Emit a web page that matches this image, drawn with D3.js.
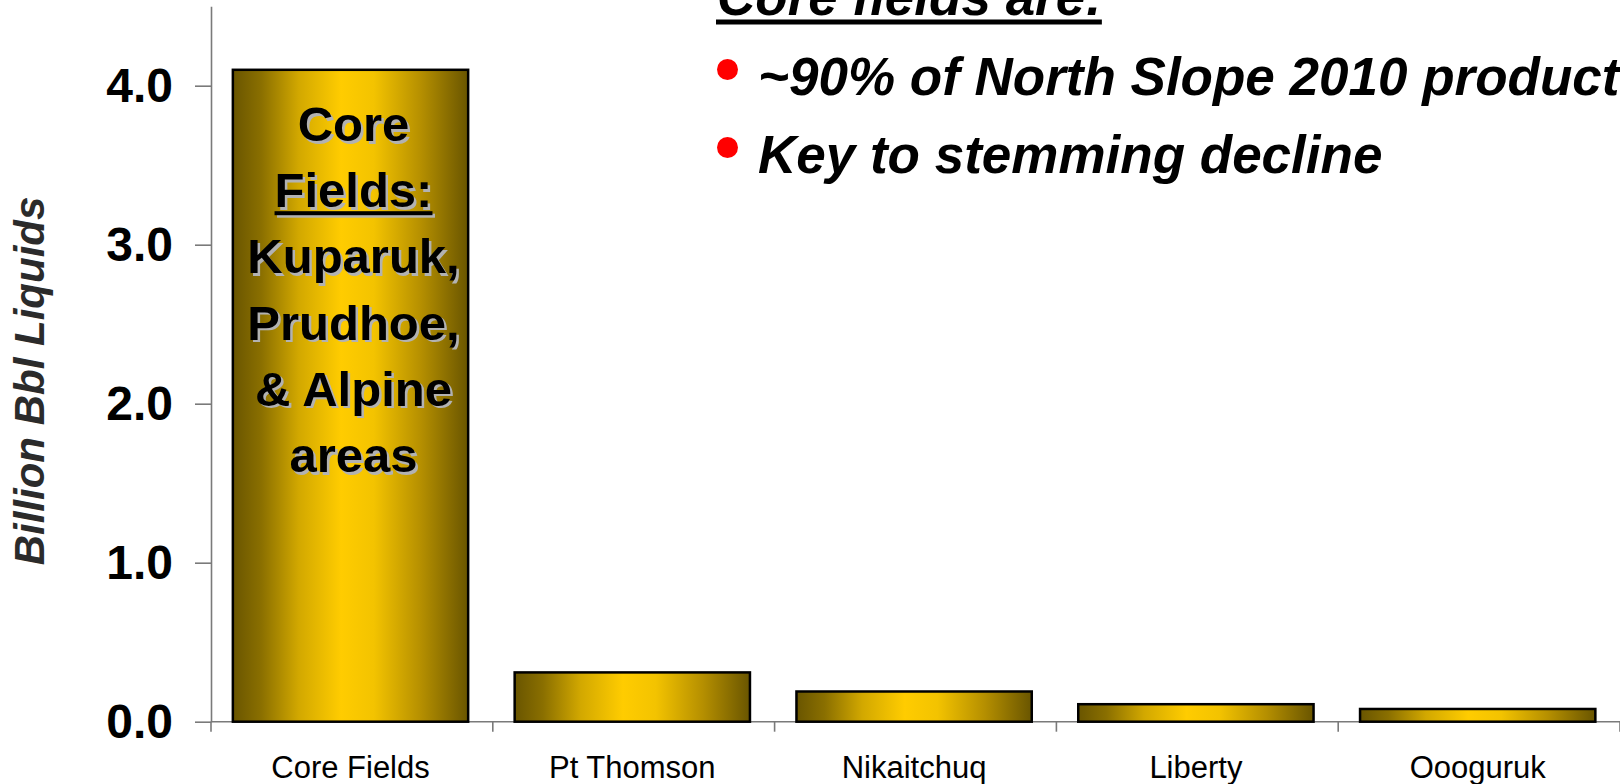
<!DOCTYPE html>
<html>
<head>
<meta charset="utf-8">
<script src="https://cdn.jsdelivr.net/npm/d3@7"></script>
<style>
  html, body { margin: 0; padding: 0; background: #fff; overflow: hidden; }
  svg { display: block; }
</style>
</head>
<body>
<svg id="chart" width="1620" height="784"></svg>
<script>
// Remaining recoverable liquids by field group (billion barrels)
const fields = ["Core Fields", "Pt Thomson", "Nikaitchuq", "Liberty", "Oooguruk"];
const reserves = [4.1, 0.31, 0.19, 0.11, 0.08];
const yTicks = [0, 1, 2, 3, 4];
const yMax = 4.5;
const yTitle = "Billion Bbl Liquids";
const coreLabelLines = ["Core", "Fields:", "Kuparuk,", "Prudhoe,", "& Alpine", "areas"];
const calloutTitle = "Core fields are:";
const calloutBullets = ["~90% of North Slope 2010 production", "Key to stemming decline"];

const W = 1620, H = 784;
const plot = { left: 211, right: 1620, top: 6.2, bottom: 721.7 };
const FONT = "'Liberation Sans', Arial, Helvetica, sans-serif";

const svg = d3.select("#chart");

// Horizontal gold gradient used for every bar
const defs = svg.append("defs");
const grad = defs.append("linearGradient")
  .attr("id", "gold").attr("x1", "0%").attr("x2", "100%").attr("y1", "0%").attr("y2", "0%");
[
  [0, "#695500"], [0.12, "#8a6f00"], [0.28, "#d2a800"], [0.46, "#ffcc00"],
  [0.6, "#f3c300"], [0.8, "#b58f00"], [1, "#695500"]
].forEach(([o, c]) => grad.append("stop").attr("offset", o).attr("stop-color", c));

const x = d3.scaleBand()
  .domain(fields)
  .range([plot.left, plot.right])
  .paddingInner(0.165)
  .paddingOuter(0.0825)
  .align(0.47);

const y = d3.scaleLinear().domain([0, yMax]).range([plot.bottom, plot.top]);

const axisColor = "#7a7a7a";

// Y axis
const yAxis = svg.append("g")
  .attr("transform", `translate(${plot.left},0)`)
  .call(d3.axisLeft(y).tickValues(yTicks).tickFormat(d3.format(".1f"))
    .tickSizeInner(16).tickSizeOuter(0).tickPadding(22));
yAxis.selectAll("path.domain, line").attr("stroke", axisColor).attr("stroke-width", 1.6);
yAxis.selectAll("text")
  .attr("fill", "#000")
  .style("font-family", FONT)
  .style("font-size", "48px")
  .style("font-weight", "bold");

// X axis baseline with ticks on category boundaries
const step = x.step();
const boundaries = d3.range(fields.length + 1).map(i => plot.left + i * step);
svg.append("line")
  .attr("x1", plot.left).attr("x2", plot.right)
  .attr("y1", y(0)).attr("y2", y(0))
  .attr("stroke", axisColor).attr("stroke-width", 1.6);
svg.selectAll("line.xtick").data(boundaries).join("line")
  .attr("class", "xtick")
  .attr("x1", d => d).attr("x2", d => d)
  .attr("y1", y(0)).attr("y2", y(0) + 10)
  .attr("stroke", axisColor).attr("stroke-width", 1.6);

// Category labels
svg.selectAll("text.xlab").data(fields).join("text")
  .attr("class", "xlab")
  .attr("x", d => x(d) + x.bandwidth() / 2)
  .attr("y", 778)
  .attr("text-anchor", "middle")
  .style("font-family", FONT)
  .style("font-size", "31px")
  .attr("fill", "#000")
  .text(d => d);

// Bars
const data = fields.map((f, i) => ({ field: f, value: reserves[i] }));
svg.selectAll("rect.bar").data(data).join("rect")
  .attr("class", "bar")
  .attr("x", d => x(d.field))
  .attr("width", x.bandwidth())
  .attr("y", d => y(d.value))
  .attr("height", d => y(0) - y(d.value))
  .attr("fill", "url(#gold)")
  .attr("stroke", "#000")
  .attr("stroke-width", 2.5);

// Y axis title
svg.append("text")
  .attr("transform", `translate(44,381) rotate(-90)`)
  .attr("text-anchor", "middle")
  .style("font-family", FONT)
  .style("font-size", "42px")
  .style("font-weight", "bold")
  .style("font-style", "italic")
  .attr("fill", "#2b2b2b")
  .text(yTitle);

// Label inside the core fields bar (with drop shadow)
const coreCx = x(fields[0]) + x.bandwidth() / 2 + 3;
const lineTop = 141, lineGap = 66.2;
const coreLabel = svg.append("g")
  .style("font-family", FONT)
  .style("font-size", "49px")
  .style("font-weight", "bold")
  .attr("text-anchor", "middle");
[{ dx: 2.5, fill: "#b2b2b2" }, { dx: 0, fill: "#000" }].forEach(layer => {
  coreLabel.selectAll(null).data(coreLabelLines).join("text")
    .attr("x", coreCx + layer.dx)
    .attr("y", (d, i) => lineTop + i * lineGap + layer.dx)
    .attr("fill", layer.fill)
    .text(d => d);
});
// underline under "Fields:"
const fieldsText = coreLabel.selectAll("text").filter(d => d === "Fields:").nodes()[1];
const fw = fieldsText.getComputedTextLength();
[{ dx: 2.5, c: "#b2b2b2" }, { dx: 0, c: "#000" }].forEach(l => {
  svg.append("rect")
    .attr("x", coreCx - fw / 2 + l.dx)
    .attr("y", lineTop + lineGap + 4 + l.dx)
    .attr("width", fw)
    .attr("height", 4)
    .attr("fill", l.c);
});

// Callout text at the top
const callout = svg.append("g")
  .style("font-family", FONT)
  .style("font-weight", "bold")
  .style("font-style", "italic")
  .style("font-size", "53px");
const titleText = callout.append("text")
  .attr("x", 717).attr("y", 15)
  .attr("fill", "#000")
  .text(calloutTitle);
const tw = titleText.node().getComputedTextLength();
callout.append("rect")
  .attr("x", 716).attr("y", 19.5).attr("width", tw).attr("height", 5).attr("fill", "#000");

const bulletBase = [95, 173];
calloutBullets.forEach((t, i) => {
  callout.append("circle")
    .attr("cx", 727.5).attr("cy", bulletBase[i] - 25.5).attr("r", 10.5)
    .attr("fill", "#ff0000");
  callout.append("text")
    .attr("x", 758).attr("y", bulletBase[i])
    .attr("fill", "#000")
    .text(t);
});
</script>
</body>
</html>
